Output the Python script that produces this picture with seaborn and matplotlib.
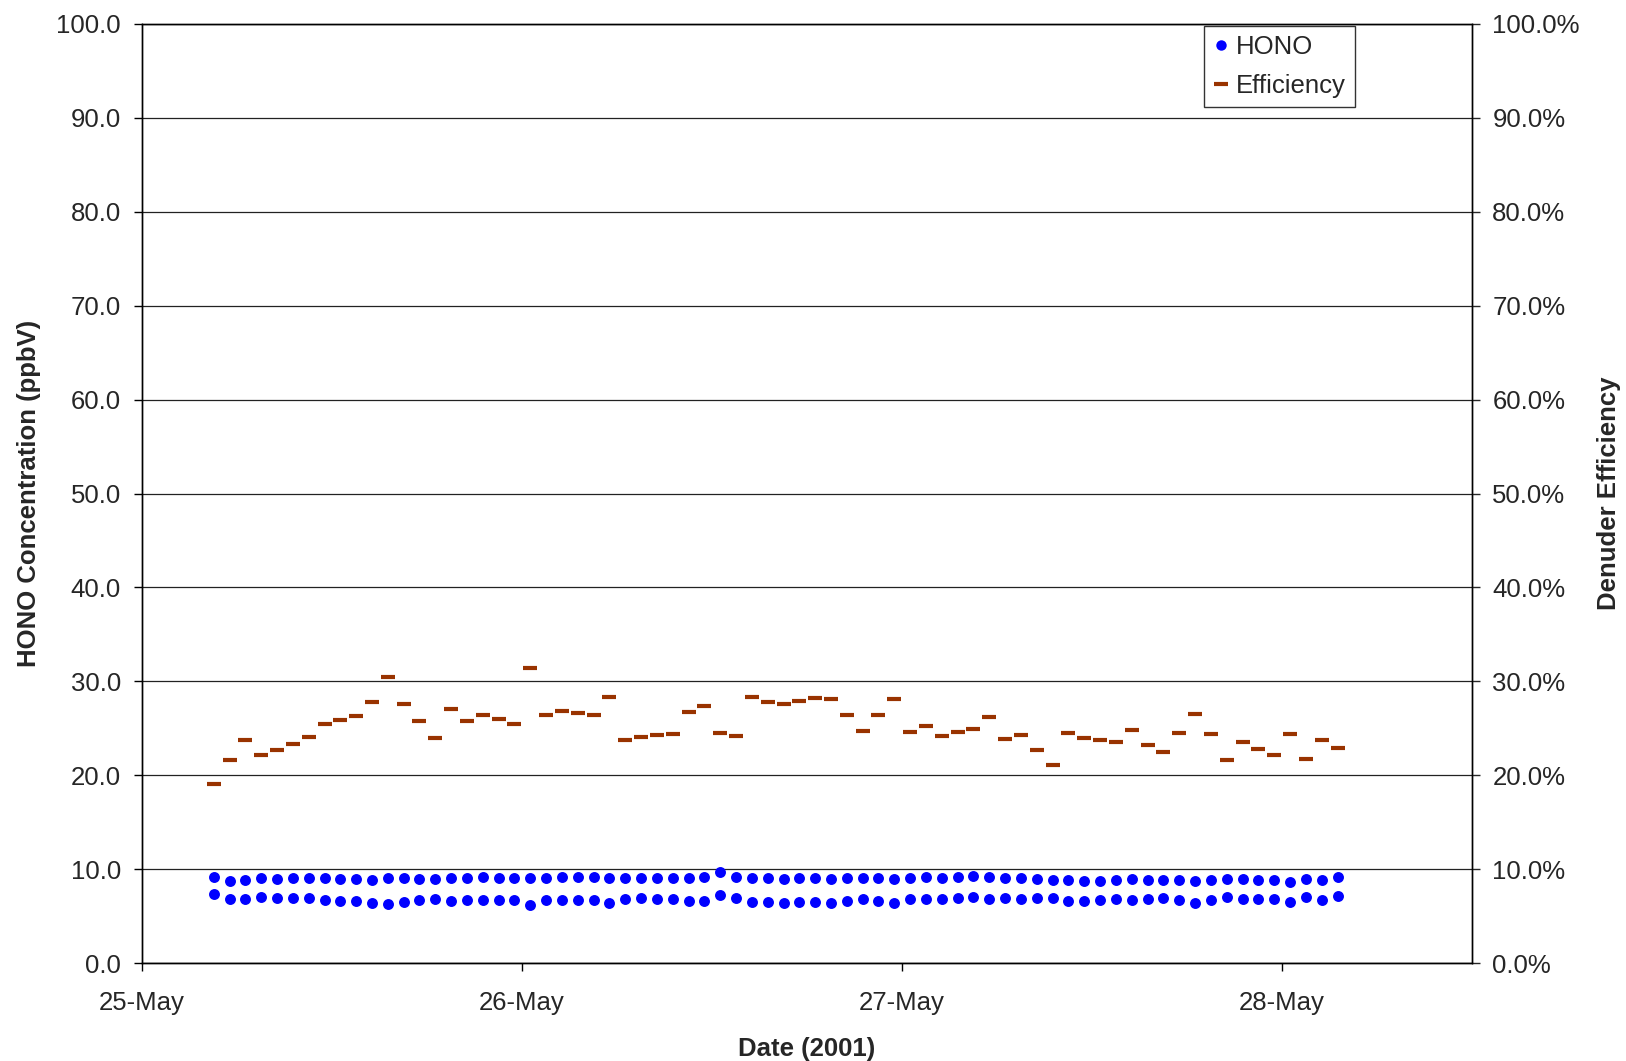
"""
HONO concentration and denuder efficiency, 25-28 May 2001.
"""

import pandas as pd
import matplotlib
matplotlib.use("Agg")
import matplotlib.pyplot as plt
import matplotlib.dates as mdates
from matplotlib.ticker import FormatStrFormatter, PercentFormatter, MultipleLocator
from matplotlib.lines import Line2D
import seaborn as sns

sns.set_style("white")
plt.rcParams['font.family'] = ['Liberation Sans', 'DejaVu Sans']

# hourly samples, first one at 25-May 04:32
times = pd.date_range("2001-05-25 04:32", periods=72, freq="1h")

# HONO (ppbV), upper and lower row of points
hono_upper = [9.15, 8.76, 8.90, 9.04, 9.01, 9.04, 9.11, 9.04, 9.01, 8.97,
              8.90, 9.08, 9.04, 9.01, 9.01, 9.04, 9.04, 9.15, 9.11, 9.04,
              9.04, 9.11, 9.18, 9.18, 9.18, 9.04, 9.08, 9.11, 9.08, 9.08,
              9.11, 9.15, 9.68, 9.15, 9.08, 9.04, 8.93, 9.04, 9.11, 8.97,
              9.08, 9.04, 9.04, 9.01, 9.11, 9.15, 9.04, 9.18, 9.33, 9.22,
              9.08, 9.04, 8.93, 8.83, 8.86, 8.76, 8.79, 8.86, 8.97, 8.90,
              8.86, 8.86, 8.76, 8.83, 8.93, 8.93, 8.86, 8.83, 8.69, 8.93,
              8.86, 9.15]
hono_lower = [7.37, 6.87, 6.80, 7.05, 6.98, 6.91, 6.91, 6.70, 6.66, 6.59,
              6.41, 6.34, 6.52, 6.70, 6.84, 6.59, 6.70, 6.73, 6.73, 6.73,
              6.24, 6.70, 6.73, 6.73, 6.77, 6.45, 6.87, 6.91, 6.87, 6.87,
              6.66, 6.63, 7.30, 6.91, 6.48, 6.48, 6.45, 6.48, 6.48, 6.41,
              6.66, 6.80, 6.66, 6.45, 6.84, 6.84, 6.84, 6.91, 7.02, 6.80,
              6.91, 6.87, 6.94, 6.94, 6.66, 6.66, 6.73, 6.80, 6.77, 6.84,
              6.91, 6.70, 6.45, 6.70, 7.02, 6.84, 6.84, 6.84, 6.55, 7.02,
              6.73, 7.16]

# denuder efficiency (%)
efficiency = [19.04, 21.67, 23.73, 22.13, 22.70, 23.30, 24.09, 25.51, 25.93, 26.32,
              27.82, 30.44, 27.60, 25.79, 23.98, 27.03, 25.83, 26.43, 25.97, 25.44,
              31.40, 26.39, 26.82, 26.64, 26.43, 28.31, 23.73, 24.12, 24.26, 24.40,
              26.78, 27.42, 24.51, 24.16, 28.35, 27.82, 27.64, 27.96, 28.28, 28.17,
              26.47, 24.76, 26.43, 28.10, 24.65, 25.22, 24.23, 24.58, 24.97, 26.25,
              23.84, 24.33, 22.70, 21.14, 24.55, 23.98, 23.77, 23.55, 24.80, 23.23,
              22.52, 24.51, 26.50, 24.44, 21.67, 23.52, 22.84, 22.20, 24.40, 21.71,
              23.73, 22.91]

HONO_COLOR = "#0000FF"
EFF_COLOR = "#993300"
FS = 18.5

hono_df = pd.DataFrame({
    "time": list(times) + list(times),
    "hono": hono_upper + hono_lower,
})
eff_df = pd.DataFrame({"time": times, "eff": efficiency})

fig = plt.figure(figsize=(16.26, 10.61), dpi=100)
ax = fig.add_axes([0.0873, 0.0921, 0.8177, 0.8855])
ax2 = ax.twinx()

sns.scatterplot(data=hono_df, x="time", y="hono", ax=ax, color=HONO_COLOR,
                s=62, linewidth=0, marker="o", zorder=3)
sns.scatterplot(data=eff_df, x="time", y="eff", ax=ax2, color=EFF_COLOR,
                marker="_", s=105, linewidth=3.0, zorder=3)

# axes ranges
ax.set_xlim(pd.Timestamp("2001-05-25"), pd.Timestamp("2001-05-28 12:00"))
ax.set_ylim(0, 100)
ax2.set_ylim(0, 100)

ax.xaxis.set_major_locator(mdates.DayLocator())
ax.xaxis.set_major_formatter(mdates.DateFormatter("%d-%b"))
ax.yaxis.set_major_locator(MultipleLocator(10))
ax.yaxis.set_major_formatter(FormatStrFormatter("%.1f"))
ax2.yaxis.set_major_locator(MultipleLocator(10))
ax2.yaxis.set_major_formatter(PercentFormatter(decimals=1))

ax.yaxis.grid(True, color="#222222", linewidth=0.9)
ax.set_axisbelow(True)

for a in (ax, ax2):
    for sp in a.spines.values():
        sp.set_color("black")
        sp.set_linewidth(1.0)
ax.spines["top"].set_color("#222222")

ax.tick_params(axis="both", which="major", direction="out", length=6,
               width=1, color="black", labelsize=FS, pad=9)
ax.tick_params(axis="x", pad=14, bottom=True)
ax2.tick_params(axis="y", direction="out", length=6, width=1,
                labelsize=FS, pad=9, right=True)

ax.set_xlabel("Date (2001)", fontsize=FS, fontweight="bold", labelpad=16)
ax.set_ylabel("HONO Concentration (ppbV)", fontsize=FS, fontweight="bold", labelpad=11)
ax2.set_ylabel("Denuder Efficiency", fontsize=FS, fontweight="bold", labelpad=12)

# legend combining both axes
handles = [
    Line2D([], [], linestyle="", marker="o", markersize=7.5, color=HONO_COLOR, markeredgewidth=0),
    Line2D([], [], linestyle="", marker="_", markersize=10, color=EFF_COLOR, markeredgewidth=3.0),
]
leg = ax2.legend(handles, ["HONO", "Efficiency"], loc="upper left",
                 bbox_to_anchor=(0.7405, 0.9755), bbox_transform=fig.transFigure,
                 fontsize=FS, frameon=True, fancybox=False, handlelength=0.6,
                 handletextpad=0.3, borderpad=0.35, labelspacing=0.6,
                 borderaxespad=0)
leg.get_frame().set_edgecolor("black")
leg.get_frame().set_linewidth(1.0)

plt.savefig("out.png", dpi=100)
plt.close()
